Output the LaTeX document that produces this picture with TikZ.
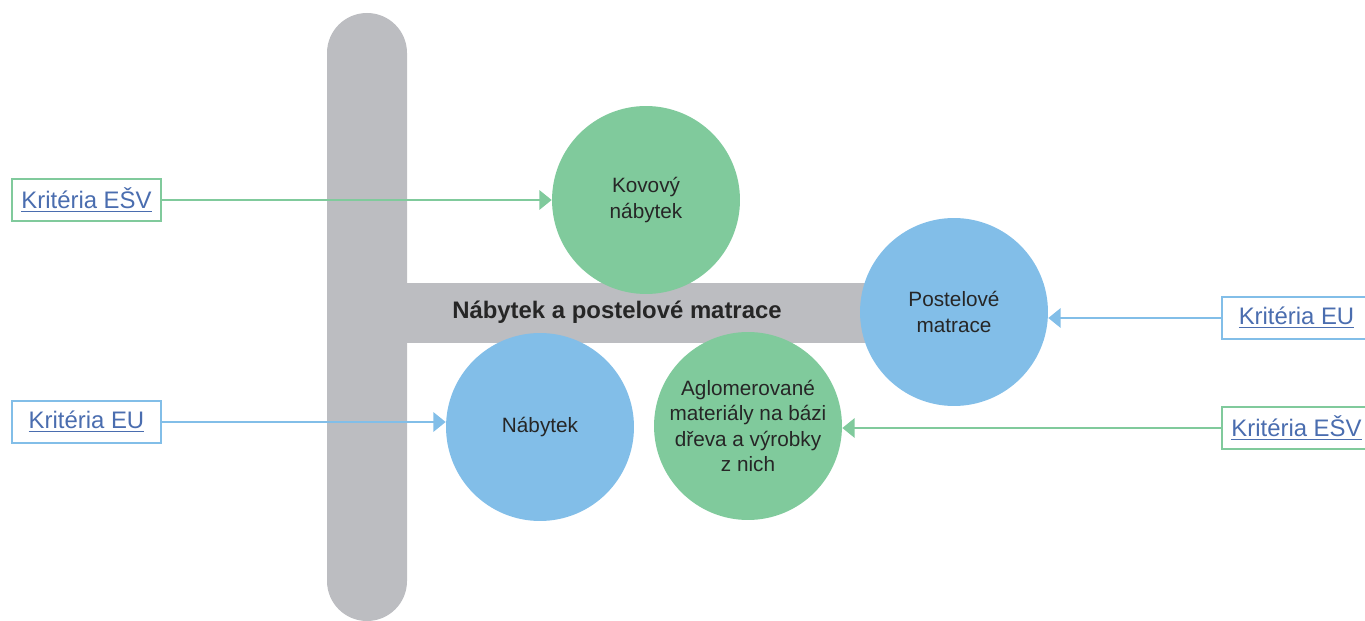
\documentclass[tikz,border=0pt]{standalone}
\usepackage{fontspec}
\setmainfont{Liberation Sans}
\usepackage{tikz}
\usetikzlibrary{arrows.meta,calc,positioning}
\definecolor{zelena}{HTML}{80CA9C}
\definecolor{modra}{HTML}{82BEE8}
\definecolor{seda}{HTML}{BCBDC1}
\definecolor{odkaz}{HTML}{4A6DAF}
\tikzset{
    >={Triangle[length=7pt,width=11pt]},
    kruh/.style={
           circle,
           minimum size=3.76cm,
           inner sep=0pt,
           align=center,
           font=\fontsize{11.8pt}{14.3pt}\selectfont,
           text=black!85},
    krit/.style={
           draw, line width=1.3pt,
           fill=white,
           minimum width=2.98cm,
           minimum height=0.84cm,
           inner sep=0pt,
           text=odkaz,
           font=\fontsize{13.6pt}{16pt}\selectfont},
    pil/.style={
           ->,
           line width=1.25pt}
}

\begin{document}
\begin{tikzpicture}[x=0.02cm,y=-0.02cm]
          \useasboundingbox (0,0) rectangle (1365,621);
          % sloupek a trám
          \fill[seda, rounded corners=0.8cm] (327,13) rectangle (407,621);
          \fill[seda] (400,283) rectangle (900,343);
          \node[font=\bfseries\fontsize{13.6pt}{16pt}\selectfont, text=black!85](nazev) at (617,312) {Nábytek a postelové matrace};
          % kruhy
          \node[kruh, fill=zelena](kovovy) at (646,200) {Kovový\\nábytek};
          \node[kruh, fill=modra](postel) at (954,312) {Postelové\\matrace};
          \node[kruh, fill=modra](nabytek) at (540,427) {Nábytek};
          \node[kruh, fill=zelena](aglo) at (748,426) {Aglomerované\\materiály na bázi\\dřeva a výrobky\\z nich};
          % kritéria
          \node[krit, draw=zelena](esvL) at (86.5,200) {\underline{Kritéria EŠV}};
          \node[krit, draw=modra](euL) at (86.5,422) {\underline{Kritéria EU}};
          \node[krit, draw=modra](euR) at (1296.5,318) {\underline{Kritéria EU}};
          \node[krit, draw=zelena](esvR) at (1296.5,428) {\underline{Kritéria EŠV}};
          \draw[pil, zelena] (esvL) -- (kovovy);
          \draw[pil, modra] (euL) -- (euL -| nabytek.west);
          \draw[pil, modra] (euR) -- (euR -| postel.east);
          \draw[pil, zelena] (esvR) -- (esvR -| aglo.east);
         \end{tikzpicture}
\end{document}
